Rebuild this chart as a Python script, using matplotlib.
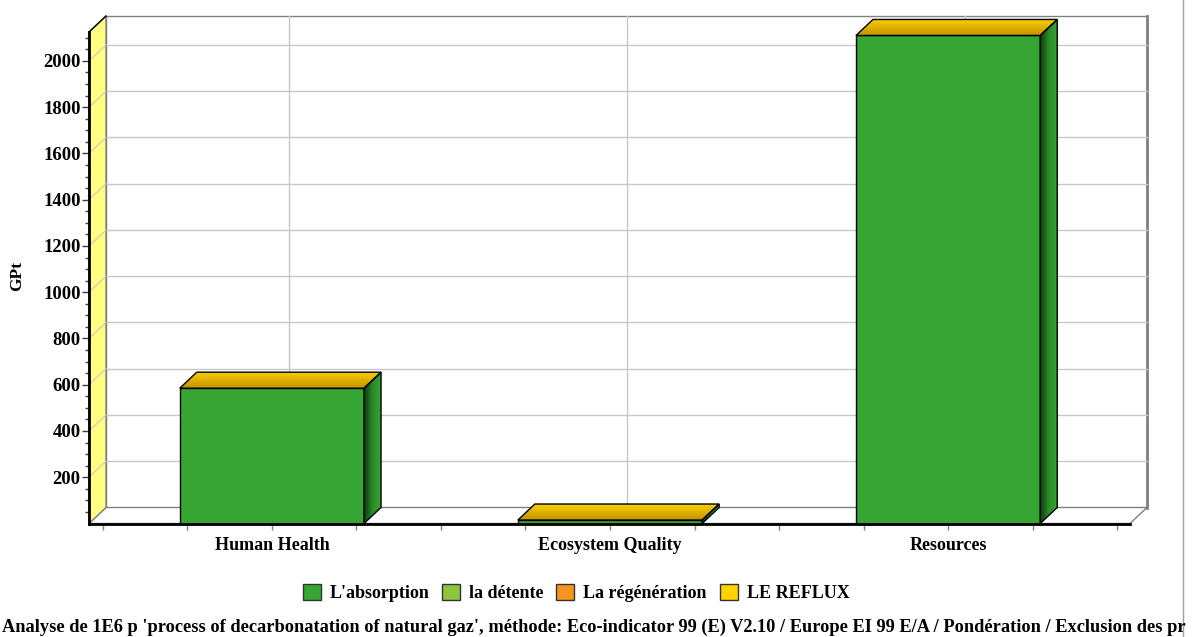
import numpy as np
import matplotlib
matplotlib.use("Agg")
import matplotlib.pyplot as plt
import matplotlib.patches as patches
from matplotlib.lines import Line2D
from matplotlib.colors import LinearSegmentedColormap

# data
categories = ["Human Health", "Ecosystem Quality", "Resources"]
values = [585, 15, 2110]
legend_labels = ["L'absorption", "la détente", "La régénération", "LE REFLUX"]
legend_colors = ["#36a533", "#8cc63e", "#f7941d", "#ffd200"]
y_ticks = [200, 400, 600, 800, 1000, 1200, 1400, 1600, 1800, 2000]
# footer as visible in the reference (cut by the picture edge)
footer = ("Analyse de 1E6 p 'process of decarbonatation of natural gaz', méthode: "
          "Eco-indicator 99 (E) V2.10 / Europe EI 99 E/A / Pondération / Exclusion des pr")

plt.rcParams['font.family'] = ['Liberation Serif', 'DejaVu Serif']
plt.rcParams['font.weight'] = 'bold'

W, H = 1195, 637
fig = plt.figure(figsize=(W / 100, H / 100), dpi=100)

# front plane in pixels; the axes reaches a bit higher so the 3d tops are not clipped
left_px, right_px, top_px, bottom_px = 89, 1130, 32, 523.5
xmin, xmax = -0.541, 2.538
ymin, ymax = 0, 2125
px_x = (right_px - left_px) / (xmax - xmin)
px_y = (bottom_px - top_px) / (ymax - ymin)
dx = 17 / px_x
dy = 16 / px_y
extra = 20 / px_y
ax_top_px = top_px - 20
ax = fig.add_axes([left_px / W, 1 - bottom_px / H,
                   (right_px - left_px) / W, (bottom_px - ax_top_px) / H])

grid_col = "#c8c8c8"
wall_edge = "#808080"

# back wall
ax.add_patch(patches.Rectangle((xmin + dx, dy), xmax - xmin, ymax, facecolor="white",
                               edgecolor=wall_edge, lw=1, clip_on=False, zorder=0))
ax.plot([xmax + dx, xmax + dx], [dy, ymax + dy], color=wall_edge, lw=2, clip_on=False, zorder=0.5)
for v in y_ticks:
    ax.plot([xmin + dx, xmax + dx], [v + dy, v + dy], color=grid_col, lw=1, clip_on=False, zorder=0.5)
for i in range(len(categories)):
    ax.plot([i + dx, i + dx], [dy, ymax + dy], color=grid_col, lw=1, clip_on=False, zorder=0.5)

# floor
ax.add_patch(patches.Polygon([(xmin, 0), (xmax, 0), (xmax + dx, dy), (xmin + dx, dy)],
                             closed=True, facecolor="white", edgecolor=wall_edge, lw=1,
                             clip_on=False, zorder=1))
# left wall
ax.add_patch(patches.Polygon([(xmin, 0), (xmin + dx, dy), (xmin + dx, ymax + dy), (xmin, ymax)],
                             closed=True, facecolor="#ffff80", edgecolor=wall_edge, lw=1,
                             clip_on=False, zorder=1))
for v in y_ticks:
    ax.plot([xmin, xmin + dx], [v, v + dy], color=grid_col, lw=0.8, clip_on=False, zorder=1.2)
ax.plot([xmin, xmin + dx], [ymax, ymax + dy], color="black", lw=1, clip_on=False, zorder=1.3)

# bars
bw = 0.545
top_grad = np.linspace(0, 1, 64).reshape(-1, 1)
side_grad = np.linspace(0, 1, 64).reshape(1, -1)
top_cmap = LinearSegmentedColormap.from_list("top", ["#c49300", "#f9d000"])
side_cmap = LinearSegmentedColormap.from_list("side", ["#0b3a0b", "#2a8a28", "#36a533"])

for i, v in enumerate(values):
    x0, x1 = i - bw / 2, i + bw / 2
    front = patches.Rectangle((x0, 0), bw, v, facecolor="#36a533", edgecolor="black",
                              lw=1, zorder=3, clip_on=False)
    ax.add_patch(front)
    top = patches.Polygon([(x0, v), (x1, v), (x1 + dx, v + dy), (x0 + dx, v + dy)],
                          closed=True, facecolor="none", edgecolor="black", lw=1, zorder=4, clip_on=False)
    ax.add_patch(top)
    im = ax.imshow(top_grad, cmap=top_cmap, aspect="auto", origin="lower",
                   extent=[x0, x1 + dx, v, v + dy], zorder=3.5)
    im.set_clip_path(top)
    side = patches.Polygon([(x1, 0), (x1 + dx, dy), (x1 + dx, v + dy), (x1, v)],
                           closed=True, facecolor="none", edgecolor="black", lw=1, zorder=4, clip_on=False)
    ax.add_patch(side)
    im2 = ax.imshow(side_grad, cmap=side_cmap, aspect="auto", origin="lower",
                    extent=[x1, x1 + dx, 0, v + dy], zorder=3.5)
    im2.set_clip_path(side)

ax.set_xlim(xmin, xmax)
ax.set_ylim(ymin, ymax + extra)

# axes styling
for s in ["top", "right"]:
    ax.spines[s].set_visible(False)
ax.spines["left"].set_bounds(0, ymax)
ax.spines["left"].set_linewidth(2)
ax.spines["bottom"].set_linewidth(2)
ax.spines["left"].set_zorder(5)
ax.spines["bottom"].set_zorder(5)
ax.patch.set_visible(False)

ax.set_yticks(y_ticks)
ax.set_yticklabels([str(v) for v in y_ticks], fontsize=13.5, fontweight="bold")
ax.set_yticks(np.arange(50, ymax, 50), minor=True)
ax.tick_params(axis="y", which="major", length=5, width=1, color="#404040", pad=1)
ax.tick_params(axis="y", which="minor", length=3, width=1, color="#404040")

ax.set_xticks(range(len(categories)))
ax.set_xticklabels(categories, fontsize=13, fontweight="bold")
ax.set_xticks(np.arange(-0.5, 2.51, 0.25), minor=True)
ax.tick_params(axis="x", which="both", length=4, width=1, color="#808080", pad=6)

fig.text(17 / W, 1 - 276 / H, "GPt", rotation=90, ha="center", va="center",
         fontsize=12.5, fontweight="bold")

# legend
handles = [patches.Patch(facecolor=c, edgecolor="#333333", lw=1) for c in legend_colors]
fig.legend(handles, legend_labels, loc="center", bbox_to_anchor=(576 / W, 1 - 593 / H),
           ncol=4, frameon=False, prop={"size": 13, "weight": "bold"},
           handlelength=1.0, handleheight=1.0, handletextpad=0.5, columnspacing=0.7)

fig.text(2 / W, 1 - 627 / H, footer, ha="left", va="center", fontsize=13.2, fontweight="bold")

# right border line
fig.add_artist(Line2D([1182.5 / W, 1182.5 / W], [0, 1], color="#a0a0a0", lw=1))

fig.savefig("out.png", dpi=100)
